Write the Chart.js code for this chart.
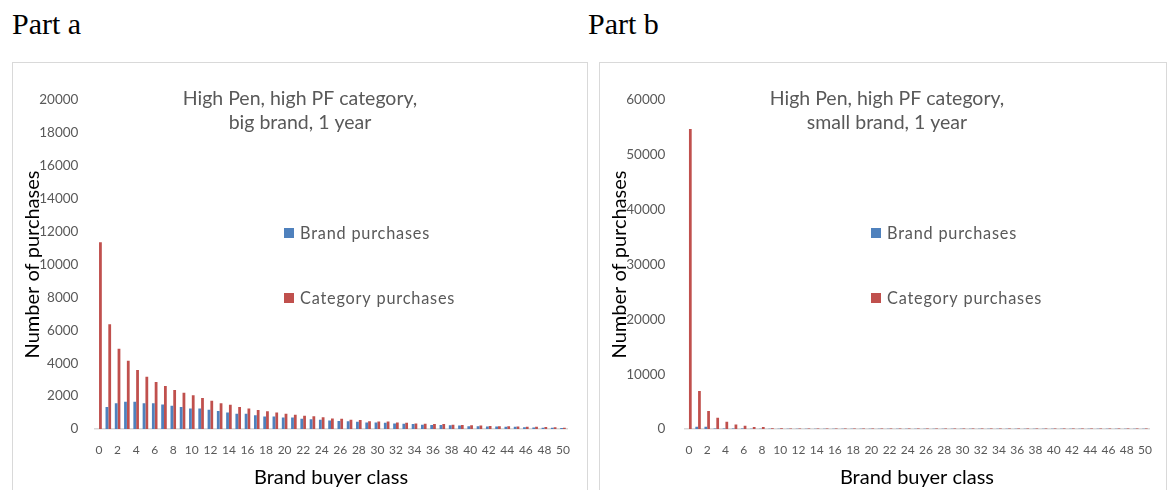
<!DOCTYPE html>
<html>
<head>
<meta charset="utf-8">
<script src="https://cdn.jsdelivr.net/npm/chart.js@4/dist/chart.umd.min.js"></script>
<style>
  body { margin: 0; background: #fff; width: 1169px; height: 490px; overflow: hidden; position: relative; }
  .part { position: absolute; top: 9px; font: 30px "Liberation Serif", serif; line-height: 30px; color: #000; }
  .box { position: absolute; top: 62px; height: 460px; border: 1px solid #d9d9d9; box-sizing: border-box; }
  canvas { position: absolute; }
</style>
</head>
<body>
<div class="part" style="left:12px">Part a</div>
<div class="part" style="left:588px">Part b</div>
<div class="box" style="left:12px; width:576px"></div>
<div class="box" style="left:599px; width:568px"></div>
<canvas id="chartA" width="575" height="427" style="left:13px; top:63px"></canvas>
<canvas id="chartB" width="566" height="427" style="left:600px; top:63px"></canvas>
<script>
// brand buyer classes 0..50
const classes = [0, 1, 2, 3, 4, 5, 6, 7, 8, 9, 10, 11, 12, 13, 14, 15, 16, 17, 18, 19, 20,
  21, 22, 23, 24, 25, 26, 27, 28, 29, 30, 31, 32, 33, 34, 35, 36, 37, 38, 39, 40,
  41, 42, 43, 44, 45, 46, 47, 48, 49, 50];

// Part a: big brand
const brandA = [0, 1330, 1570, 1650, 1650, 1570, 1570, 1490, 1410, 1330, 1250, 1240, 1170, 1090, 1000, 920,
  920, 840, 760, 760, 700, 700, 630, 600, 560, 520, 480, 470, 440, 400, 390, 380, 330, 320, 310, 260,
  250, 240, 230, 220, 170, 160, 150, 150, 140, 130, 100, 90, 80, 70, 60];
const categoryA = [11350, 6370, 4880, 4150, 3590, 3180, 2860, 2610, 2370, 2210, 2050, 1890, 1720, 1560, 1480, 1330,
  1240, 1160, 1080, 1000, 930, 860, 800, 780, 710, 640, 630, 560, 550, 470, 460, 450, 390, 380, 340, 320,
  310, 300, 260, 250, 230, 220, 180, 170, 160, 150, 140, 130, 120, 100, 70];

// Part b: small brand
const brandB = [0, 420, 420, 90, 80, 70, 70, 60, 60, 60, 60, 60, 60, 60, 60, 60, 60, 60, 60, 60, 60,
  60, 60, 60, 60, 60, 60, 60, 60, 60, 60, 60, 60, 60, 60, 60, 60, 60, 60, 60, 60,
  60, 60, 60, 60, 60, 60, 60, 60, 60, 60];
const categoryB = [54700, 6930, 3280, 2060, 1330, 840, 600, 370, 370, 150, 120, 110, 100, 100, 90, 90, 90, 90, 90, 90, 90,
  90, 90, 90, 90, 90, 90, 90, 90, 90, 90, 90, 90, 90, 90, 90, 90, 90, 90, 90, 90,
  90, 90, 90, 90, 90, 90, 90, 90, 90, 90];

const seriesNames = ["Brand purchases", "Category purchases"];
const titleA = ["High Pen, high PF category,", "big brand, 1 year"];
const titleB = ["High Pen, high PF category,", "small brand, 1 year"];

const BLUE = "#4f81bd";
const RED = "#c0504d";
const GREY = "#595959";
const FONT = "Lato, 'Open Sans', sans-serif";

// title + legend drawn inside the plot area, like the Excel original
const overlay = {
  id: "overlay",
  afterDraw(chart) {
    const ctx = chart.ctx;
    const o = chart.options.plugins.overlay;
    ctx.save();
    ctx.fillStyle = GREY;
    ctx.font = "19.5px " + FONT;
    ctx.textAlign = "center";
    ctx.textBaseline = "middle";
    o.title.forEach((line, i) => ctx.fillText(line, o.titleX, 36 + i * 24));
    ctx.textAlign = "left";
    ctx.font = "16.3px " + FONT;
    ctx.letterSpacing = "0.8px";
    chart.data.datasets.forEach((ds, i) => {
      const y = 170 + i * 65;
      ctx.fillStyle = ds.backgroundColor;
      ctx.fillRect(271, y - 5, 10, 10);
      ctx.fillStyle = GREY;
      ctx.fillText(ds.label, 287, y + 1);
    });
    ctx.restore();
  }
};

function makeChart(id, brand, category, yMax, yStep, title, areaLeft, areaRight, tickPad) {
  const canvas = document.getElementById(id);
  return new Chart(canvas.getContext("2d"), {
    type: "bar",
    data: {
      labels: classes,
      datasets: [
        { label: seriesNames[0], data: brand, backgroundColor: BLUE },
        { label: seriesNames[1], data: category, backgroundColor: RED }
      ]
    },
    options: {
      responsive: false,
      animation: false,
      layout: { padding: { left: 0, top: 37, right: canvas.width - areaRight, bottom: 0 } },
      datasets: { bar: { categoryPercentage: 0.6, barPercentage: 1.0 } },
      plugins: {
        legend: { display: false },
        tooltip: { enabled: false },
        overlay: { title: title, titleX: 287 }
      },
      scales: {
        x: {
          grid: { display: false, drawTicks: false },
          border: { display: true, color: "#d9d9d9", width: 1.5 },
          ticks: {
            autoSkip: false, maxRotation: 0, padding: 14, color: GREY,
            font: { family: FONT, size: 12 },
            callback: (v, i) => (i % 2 === 0 ? classes[i] : "")
          },
          title: {
            display: true, text: "Brand buyer class", color: "#000",
            font: { family: FONT, size: 20 }, padding: { top: 0, bottom: 0 }
          },
          afterFit: (s) => { s.height = 61; }
        },
        y: {
          min: 0, max: yMax,
          grid: { display: false, drawTicks: false },
          border: { display: false },
          ticks: {
            stepSize: yStep, padding: tickPad, color: GREY,
            font: { family: FONT, size: 13.5 },
            callback: (v) => String(v)
          },
          title: {
            display: true, text: "Number of purchases", color: "#000",
            font: { family: FONT, size: 20 }, padding: { top: 8, bottom: 0 }
          },
          afterFit: (s) => { s.width = areaLeft; }
        }
      }
    },
    plugins: [overlay]
  });
}

makeChart("chartA", brandA, categoryA, 20000, 2000, titleA, 81.4, 554.6, 16);
makeChart("chartB", brandB, categoryB, 60000, 10000, titleB, 84.4, 554.6, 19);
</script>
</body>
</html>
